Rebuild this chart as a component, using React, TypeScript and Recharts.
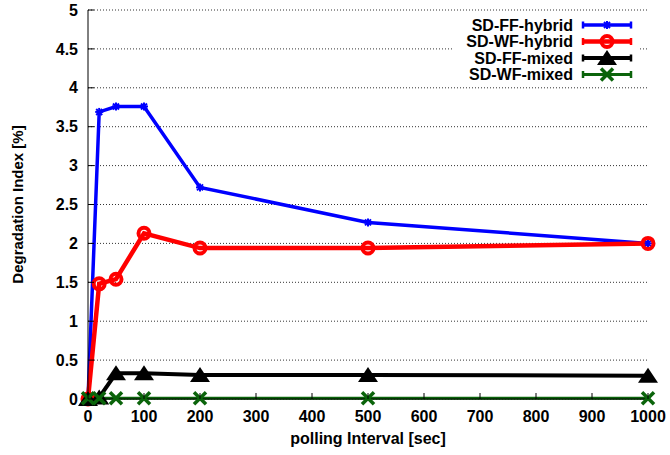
import React from 'react';
import { LineChart, Line, XAxis, YAxis, CartesianGrid, Legend } from 'recharts';

// polling interval [sec] and degradation index [%] per configuration
const interval = [0, 20, 50, 100, 200, 500, 1000];
const ffHybrid = [0, 3.69, 3.76, 3.76, 2.72, 2.27, 2.0];
const wfHybrid = [0, 1.48, 1.54, 2.13, 1.94, 1.94, 2.0];
const ffMixed = [0, 0.02, 0.33, 0.33, 0.31, 0.31, 0.3];
const wfMixed = [0.01, 0.01, 0.01, 0.01, 0.01, 0.01, 0.01];

const xTicks = [0, 100, 200, 300, 400, 500, 600, 700, 800, 900, 1000];
const yTicks = [0, 0.5, 1, 1.5, 2, 2.5, 3, 3.5, 4, 4.5, 5];

const data = interval.map((t, i) => ({
  t,
  ffHybrid: ffHybrid[i],
  wfHybrid: wfHybrid[i],
  ffMixed: ffMixed[i],
  wfMixed: wfMixed[i],
}));

const font = "'Liberation Sans', Arial, Helvetica, sans-serif";
const tickFont = { fontFamily: font, fontWeight: 700, fontSize: 16, fill: '#000' };

type MarkProps = { cx: number; cy: number; color: string };

const Star = ({ cx, cy, color }: MarkProps) => (
  <g stroke={color} strokeWidth={2}>
    <line x1={cx - 4} y1={cy} x2={cx + 4} y2={cy} />
    <line x1={cx} y1={cy - 4} x2={cx} y2={cy + 4} />
    <line x1={cx - 3} y1={cy - 3} x2={cx + 3} y2={cy + 3} />
    <line x1={cx - 3} y1={cy + 3} x2={cx + 3} y2={cy - 3} />
  </g>
);

const Ring = ({ cx, cy, color }: MarkProps) => (
  <circle cx={cx} cy={cy} r={5.5} fill="none" stroke={color} strokeWidth={4} />
);

const Tri = ({ cx, cy, color }: MarkProps) => (
  <polygon points={`${cx - 10},${cy + 7} ${cx + 10},${cy + 7} ${cx},${cy - 8}`} fill={color} />
);

const Cross = ({ cx, cy, color }: MarkProps) => (
  <g stroke={color} strokeWidth={3.5}>
    <line x1={cx - 6} y1={cy - 6} x2={cx + 6} y2={cy + 6} />
    <line x1={cx - 6} y1={cy + 6} x2={cx + 6} y2={cy - 6} />
  </g>
);

const series = [
  { key: 'ffHybrid', name: 'SD-FF-hybrid', color: '#0000ff', width: 3.5, Mark: Star },
  { key: 'wfHybrid', name: 'SD-WF-hybrid', color: '#ff0000', width: 4.5, Mark: Ring },
  { key: 'ffMixed', name: 'SD-FF-mixed', color: '#000000', width: 4, Mark: Tri },
  { key: 'wfMixed', name: 'SD-WF-mixed', color: '#0b640b', width: 3, Mark: Cross },
];

// gnuplot-style ticks: labels outside, tick marks pointing into the plot
const bottomTick = ({ x, y, payload }: any) => (
  <g>
    <line x1={x} x2={x} y1={y - 12} y2={y - 18} stroke="#000" />
    <text x={x} y={y} dy={11} textAnchor="middle" style={tickFont}>{payload.value}</text>
  </g>
);

const leftTick = ({ x, y, payload }: any) => (
  <g>
    <line x1={x + 10} x2={x + 16} y1={y} y2={y} stroke="#000" />
    <text x={x} y={y} dy={5.6} textAnchor="end" style={tickFont}>{payload.value}</text>
  </g>
);

const topTick = ({ x, y }: any) => <line x1={x} x2={x} y1={y} y2={y + 6} stroke="#000" />;

const rightTick = ({ x, y }: any) => <line x1={x} x2={x - 6} y1={y} y2={y} stroke="#000" />;

const LegendBox = () => (
  <svg width={188} height={68} style={{ display: 'block' }}>
    {series.map((s, i) => {
      const y = 9 + i * 16.5;
      const M = s.Mark;
      return (
        <g key={s.key}>
          <text x={121} y={y} dy={5.6} textAnchor="end" style={tickFont}>{s.name}</text>
          <line x1={130} x2={180} y1={y} y2={y} stroke={s.color} strokeWidth={s.width} />
          <line x1={131} x2={131} y1={y - 3.5} y2={y + 3.5} stroke={s.color} strokeWidth={2.5} />
          <line x1={179} x2={179} y1={y - 3.5} y2={y + 3.5} stroke={s.color} strokeWidth={2.5} />
          <M cx={155} cy={y} color={s.color} />
        </g>
      );
    })}
  </svg>
);

export default function App() {
  return (
    <div style={{ position: 'absolute', left: 0, top: 0 }}>
      <LineChart width={670} height={455} data={data} margin={{ top: 10, right: 22, bottom: 0, left: 0 }}>
        <CartesianGrid vertical={false} stroke="#333" strokeDasharray="1 2" />
        <XAxis
          dataKey="t"
          type="number"
          domain={[0, 1000]}
          ticks={xTicks}
          interval={0}
          height={56}
          tickSize={0}
          tickMargin={12}
          tickLine={false}
          axisLine={{ stroke: '#000' }}
          tick={bottomTick}
          label={{ value: 'polling Interval [sec]', position: 'insideBottom', offset: 11, style: tickFont, fill: '#000' }}
        />
        <XAxis
          xAxisId="top"
          orientation="top"
          type="number"
          domain={[0, 1000]}
          ticks={xTicks}
          interval={0}
          height={0}
          tickSize={0}
          tickMargin={0}
          tickLine={false}
          axisLine={{ stroke: '#000' }}
          tick={topTick}
          allowDataOverflow
        />
        <YAxis
          domain={[0, 5]}
          ticks={yTicks}
          interval={0}
          width={88}
          tickSize={0}
          tickMargin={10}
          tickLine={false}
          axisLine={{ stroke: '#000' }}
          tick={leftTick}
          label={{
            value: 'Degradation Index [%]',
            angle: -90,
            position: 'insideLeft',
            offset: 18,
            style: { ...tickFont, fontSize: 15, textAnchor: 'middle' },
            fill: '#000',
          }}
        />
        <YAxis
          yAxisId="right"
          orientation="right"
          domain={[0, 5]}
          ticks={yTicks}
          interval={0}
          width={0}
          tickSize={0}
          tickMargin={0}
          tickLine={false}
          axisLine={{ stroke: '#000' }}
          tick={rightTick}
          allowDataOverflow
        />
        <Legend
          layout="vertical"
          align="center"
          verticalAlign="middle"
          content={<LegendBox />}
          wrapperStyle={{ left: 452, top: 16, width: 188, height: 68, background: '#fff', lineHeight: 0 }}
        />
        {series.map((s) => (
          <Line
            key={s.key}
            dataKey={s.key}
            name={s.name}
            type="linear"
            stroke={s.color}
            strokeWidth={s.width}
            dot={(p: any) => <s.Mark key={p.index} cx={p.cx} cy={p.cy} color={s.color} />}
            activeDot={false}
            isAnimationActive={false}
          />
        ))}
      </LineChart>
    </div>
  );
}
